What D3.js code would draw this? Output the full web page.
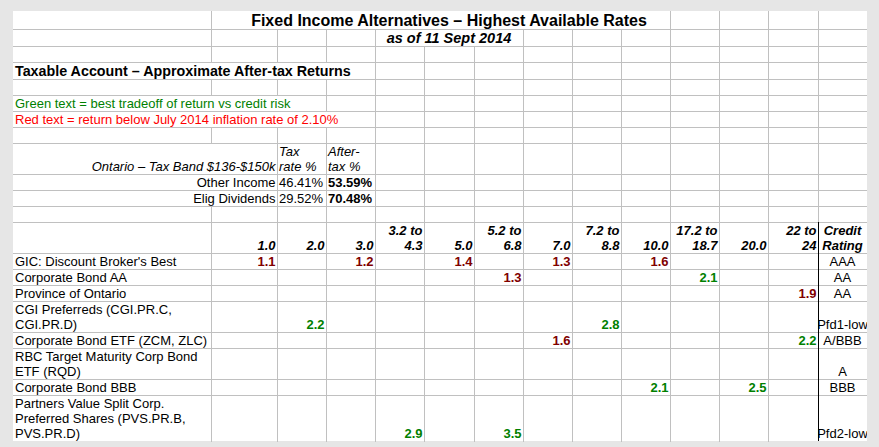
<!DOCTYPE html>
<html lang="en">
<head>
  <meta charset="UTF-8">
  <title>Fixed Income Alternatives</title>
  <script src="https://d3js.org/d3.v7.min.js"></script>
  <style>
    body { margin: 0; background: #e6e6e6; }
    svg { display: block; }
    text { font-family: "Liberation Sans", Arial, sans-serif; font-size: 13px; }
  </style>
</head>
<body>
  <svg id="sheet"></svg>

  <script>
    // ---- sheet contents ----
    const title = "Fixed Income Alternatives – Highest Available Rates";
    const subtitle = "as of 11 Sept 2014";
    const section = "Taxable Account – Approximate After-tax Returns";
    const greenNote = "Green text = best tradeoff of return vs credit risk";
    const redNote = "Red text = return below July 2014 inflation rate of 2.10%";
    const inflation = 2.10;

    const taxBand = "Ontario – Tax Band $136-$150k";
    const taxHeaders = [["Tax", "rate %"], ["After-", "tax %"]];
    const incomeTypes = ["Other Income", "Elig Dividends"];
    const taxRates = ["46.41%", "29.52%"];
    const afterTax = ["53.59%", "70.48%"];

    // term to maturity (years), header cells as they wrap in the sheet
    const maturities = [
      ["1.0"], ["2.0"], ["3.0"], ["3.2 to", "4.3"], ["5.0"], ["5.2 to", "6.8"],
      ["7.0"], ["7.2 to", "8.8"], ["10.0"], ["17.2 to", "18.7"], ["20.0"], ["22 to", "24"]
    ];
    const ratingHeader = ["Credit", "Rating"];

    const instruments = [
      "GIC: Discount Broker's Best",
      "Corporate Bond AA",
      "Province of Ontario",
      "CGI Preferreds (CGI.PR.C, CGI.PR.D)",
      "Corporate Bond ETF (ZCM, ZLC)",
      "RBC Target Maturity Corp Bond ETF (RQD)",
      "Corporate Bond BBB",
      "Partners Value Split Corp. Preferred Shares (PVS.PR.B, PVS.PR.D)"
    ];
    const ratings = ["AAA", "AA", "AA", "Pfd1-low", "A/BBB", "A", "BBB", "Pfd2-low"];

    // after-tax return %, one entry per maturity column (null = blank cell)
    const returns = [
      [1.1, null, 1.2, null, 1.4, null, 1.3, null, 1.6, null, null, null],
      [null, null, null, null, null, 1.3, null, null, null, 2.1, null, null],
      [null, null, null, null, null, null, null, null, null, null, null, 1.9],
      [null, 2.2, null, null, null, null, null, 2.8, null, null, null, null],
      [null, null, null, null, null, null, 1.6, null, null, null, null, 2.2],
      [null, null, null, null, null, null, null, null, null, null, null, null],
      [null, null, null, null, null, null, null, null, 2.1, null, 2.5, null],
      [null, null, null, 2.9, null, 3.5, null, null, null, null, null, null]
    ];

    // ---- sheet geometry ----
    const width = 879, height = 447;
    const sheetLeft = 13, sheetTop = 11;
    const colWidths = [198, 66, 49, 49, 49, 50, 49, 49, 49, 49, 49, 49, 50, 49];
    const rowHeights = [18, 17, 16, 17, 16, 16, 16, 16, 31, 16, 16, 16, 31,
                        16, 16, 16, 31, 16, 31, 16, 46];
    const lineHeight = 15;
    const gridColor = "#c0c0c0";

    const colEdges = [sheetLeft, ...Array.from(d3.cumsum(colWidths), d => sheetLeft + d)];
    const rowEdges = [sheetTop, ...Array.from(d3.cumsum(rowHeights), d => sheetTop + d)];
    const colX = d3.scaleOrdinal().domain(d3.range(colEdges.length)).range(colEdges);
    const rowY = d3.scaleOrdinal().domain(d3.range(rowEdges.length)).range(rowEdges);
    const sheetRight = colX(colWidths.length), sheetBottom = rowY(rowHeights.length);

    const fmt = d3.format(".1f");
    const HEADER_ROW = 12, FIRST_DATA_ROW = 13, RATING_COL = 13;

    // ---- build cell list ----
    const cells = [];
    function cell(r, c, lines, opts) {
      cells.push(Object.assign({ r, c, lines, align: "left", weight: "normal",
        style: "normal", size: 13, fill: "#000" }, opts));
    }

    cell(0, 5, [title], { align: "middle", weight: "bold", size: 16 });
    cell(1, 5, [subtitle], { align: "middle", weight: "bold", style: "italic", size: 14.5 });
    cell(3, 0, [section], { weight: "bold", size: 14.3 });
    cell(5, 0, [greenNote], { fill: "#008000" });
    cell(6, 0, [redNote], { fill: "#ff0000" });

    cell(8, 1, [taxBand], { align: "end", style: "italic" });
    taxHeaders.forEach((h, i) => cell(8, 2 + i, h, { style: "italic" }));
    incomeTypes.forEach((t, i) => {
      cell(9 + i, 1, [t], { align: "end" });
      cell(9 + i, 2, [taxRates[i]]);
      cell(9 + i, 3, [afterTax[i]], { weight: "bold" });
    });

    maturities.forEach((m, j) =>
      cell(HEADER_ROW, 1 + j, m, { align: "end", weight: "bold", style: "italic" }));
    cell(HEADER_ROW, RATING_COL, ratingHeader, { align: "middle", weight: "bold", style: "italic" });

    instruments.forEach((name, i) => {
      const r = FIRST_DATA_ROW + i;
      cell(r, 0, name, { wrap: true });
      returns[i].forEach((v, j) => {
        if (v == null) return;
        cell(r, 1 + j, [fmt(v)], { align: "end", weight: "bold",
          fill: v < inflation ? "#800000" : "#008000" });
      });
      cell(r, RATING_COL, [ratings[i]], { align: "middle" });
    });

    // ---- draw ----
    const svg = d3.select("#sheet").attr("width", width).attr("height", height);

    svg.append("clipPath").attr("id", "page")
      .append("rect").attr("x", sheetLeft).attr("y", sheetTop)
      .attr("width", sheetRight - sheetLeft).attr("height", sheetBottom - sheetTop);

    svg.append("rect")
      .attr("x", sheetLeft).attr("y", sheetTop)
      .attr("width", sheetRight - sheetLeft).attr("height", sheetBottom - sheetTop)
      .attr("fill", "#fff");

    const gridG = svg.append("g");
    const borderG = svg.append("g");
    const textG = svg.append("g").attr("clip-path", "url(#page)");

    // word wrap for long labels in the first column
    const probe = svg.append("text").attr("visibility", "hidden");
    function wrapWords(str, maxW) {
      const words = str.split(" ");
      const out = [];
      let line = words.shift();
      words.forEach(w => {
        probe.text(line + " " + w);
        if (probe.node().getComputedTextLength() > maxW) {
          out.push(line);
          line = w;
        } else {
          line += " " + w;
        }
      });
      out.push(line);
      return out;
    }

    const spans = d3.range(rowHeights.length).map(() => []);

    cells.forEach(d => {
      const x0 = colX(d.c), x1 = colX(d.c + 1);
      const lines = d.wrap ? wrapWords(d.lines, x1 - x0 - 3) : d.lines;
      const tx = d.align === "left" ? x0 + 2 : d.align === "end" ? x1 - 1.5 : (x0 + x1) / 2;
      const base = rowY(d.r + 1) - 3.3;

      const t = textG.append("text")
        .attr("text-anchor", d.align === "left" ? "start" : d.align)
        .attr("font-weight", d.weight)
        .attr("font-style", d.style)
        .style("font-size", d.size + "px")
        .attr("fill", d.fill);

      t.selectAll("tspan")
        .data(lines)
        .enter().append("tspan")
        .attr("x", tx)
        .attr("y", (s, i) => base - (lines.length - 1 - i) * lineHeight)
        .text(s => s);

      const bb = t.node().getBBox();
      spans[d.r].push([bb.x, bb.x + bb.width]);
    });
    probe.remove();

    // horizontal grid lines
    gridG.selectAll("line.h")
      .data(rowEdges.slice(1, -1))
      .enter().append("line")
      .attr("x1", sheetLeft).attr("x2", sheetRight)
      .attr("y1", d => d + 0.5).attr("y2", d => d + 0.5)
      .attr("stroke", gridColor);

    // vertical grid lines, hidden where text runs over into the next cell
    const segs = [];
    d3.range(rowHeights.length).forEach(r => {
      d3.range(1, colWidths.length).forEach(c => {
        const lx = colX(c) + 0.5;
        if (c === RATING_COL && r >= HEADER_ROW) return;
        if (spans[r].some(([a, b]) => a < lx && b > lx)) return;
        segs.push({ x: lx, y1: rowY(r), y2: rowY(r + 1) + 1 });
      });
    });
    gridG.selectAll("line.v")
      .data(segs)
      .enter().append("line")
      .attr("x1", d => d.x).attr("x2", d => d.x)
      .attr("y1", d => d.y1).attr("y2", d => d.y2)
      .attr("stroke", gridColor);

    // black border left of the credit rating column
    borderG.append("line")
      .attr("x1", colX(RATING_COL) + 0.5).attr("x2", colX(RATING_COL) + 0.5)
      .attr("y1", rowY(HEADER_ROW)).attr("y2", sheetBottom)
      .attr("stroke", "#000");
  </script>
</body>
</html>
